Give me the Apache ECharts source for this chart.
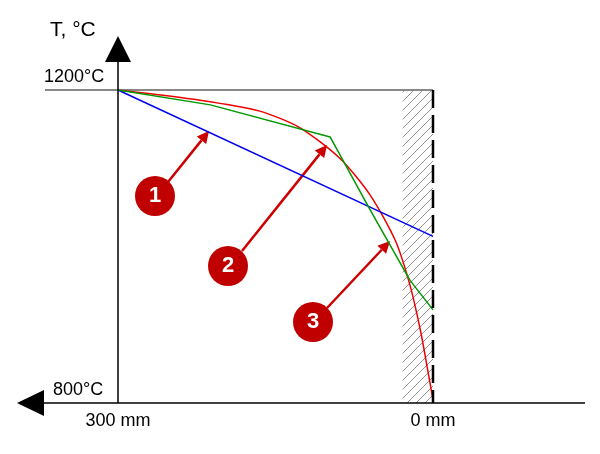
<!DOCTYPE html>
<html><head><meta charset="utf-8">
<script src="https://cdn.jsdelivr.net/npm/echarts@6/dist/echarts.min.js"></script>
<style>html,body{margin:0;background:#fff}#c{width:600px;height:454px}</style>
</head><body><div id="c"></div>
<script>
// depth in mm (0 = hot face at right), temperature in °C
var line1 = [[300, 1200], [0, 1013]];
var line2 = [[300, 1200], [212, 1181], [98, 1140], [60, 1047], [22, 957], [0, 919]];
var line3 = [[300, 1200], [222, 1187], [165, 1173], [127, 1152], [89, 1113], [60, 1066],
             [36, 1008], [22, 951], [12, 893], [5, 842], [0, 804]];
var wallFrom = 29, wallTo = 0;

var chart = echarts.init(document.getElementById('c'));

// hatch pattern for the wall
var pat = document.createElement('canvas');
pat.width = 9; pat.height = 9;
var g = pat.getContext('2d');
g.strokeStyle = '#777'; g.lineWidth = 0.8;
g.beginPath(); g.moveTo(0, 9); g.lineTo(9, 0); g.moveTo(-1, 1); g.lineTo(1, -1); g.moveTo(8, 10); g.lineTo(10, 8); g.stroke();

function arrow(x1, y1, x2, y2) {
  var a = Math.atan2(y2 - y1, x2 - x1), L = 12, W = 6;
  var bx = x2 - L * Math.cos(a), by = y2 - L * Math.sin(a);
  return [
    { type: 'line', shape: { x1: x1, y1: y1, x2: bx, y2: by }, style: { stroke: '#cc0000', lineWidth: 2.5 } },
    { type: 'polygon', shape: { points: [[x2, y2], [bx + W * Math.sin(a), by - W * Math.cos(a)], [bx - W * Math.sin(a), by + W * Math.cos(a)]] }, style: { fill: '#cc0000' } }
  ];
}
function badge(x, y, t) {
  return [
    { type: 'circle', shape: { cx: x, cy: y, r: 20 }, style: { fill: '#c00000' } },
    { type: 'text', x: x, y: y, style: { text: t, fill: '#fff', font: 'bold 22px Arial', align: 'center', verticalAlign: 'middle' } }
  ];
}
var txt = function (x, y, t, al) {
  return { type: 'text', x: x, y: y, style: { text: t, font: '18px "Liberation Sans", Arial', fill: '#000', align: al || 'left', verticalAlign: 'middle' } };
};

var graphics = [
  { type: 'line', shape: { x1: 45, y1: 90, x2: 433, y2: 90 }, style: { stroke: '#888', lineWidth: 2 }, z: 1 },
  { type: 'line', shape: { x1: 433, y1: 90, x2: 433, y2: 403 }, style: { stroke: '#000', lineWidth: 2.5, lineDash: [18, 7] }, z: 5 },
  { type: 'line', shape: { x1: 118, y1: 60, x2: 118, y2: 403 }, style: { stroke: '#000', lineWidth: 1.5 }, z: 5 },
  { type: 'line', shape: { x1: 40, y1: 403, x2: 585, y2: 403 }, style: { stroke: '#000', lineWidth: 1.5 }, z: 5 },
  { type: 'polygon', shape: { points: [[118, 36], [105, 62], [131, 62]] }, style: { fill: '#000' } },
  { type: 'polygon', shape: { points: [[17, 403], [44, 390], [44, 416]] }, style: { fill: '#000' } },
  { type: 'text', x: 50, y: 30, style: { text: 'T, °C', font: '21px "Liberation Sans", Arial', fill: '#000', verticalAlign: 'middle' } },
  txt(44, 77, '1200°C'), txt(53, 390, '800°C'), txt(118, 421, '300 mm', 'center'), txt(433, 421, '0 mm', 'center')
].concat(arrow(168, 182, 209, 131), arrow(242, 251, 327, 145), arrow(327, 308, 390, 241),
  badge(155, 196, '1'), badge(228, 266, '2'), badge(313, 322, '3'));

chart.setOption({
  animation: false,
  grid: { left: 118, right: 167, top: 90, bottom: 51 },
  xAxis: { type: 'value', min: 0, max: 300, inverse: true, show: false },
  yAxis: { type: 'value', min: 800, max: 1200, show: false },
  series: [
    { type: 'line', data: line1, symbol: 'none', lineStyle: { color: '#0000ee', width: 1.5 }, z: 3,
      markArea: { silent: true, itemStyle: { color: { image: pat, repeat: 'repeat' } },
        data: [[{ xAxis: wallFrom, yAxis: 1200 }, { xAxis: wallTo, yAxis: 800 }]] } },
    { type: 'line', data: line2, symbol: 'none', lineStyle: { color: '#009900', width: 1.5 }, z: 3 },
    { type: 'line', data: line3, symbol: 'none', smooth: 0.25, lineStyle: { color: '#ee0000', width: 1.5 }, z: 2 }
  ],
  graphic: graphics
});
</script></body></html>
